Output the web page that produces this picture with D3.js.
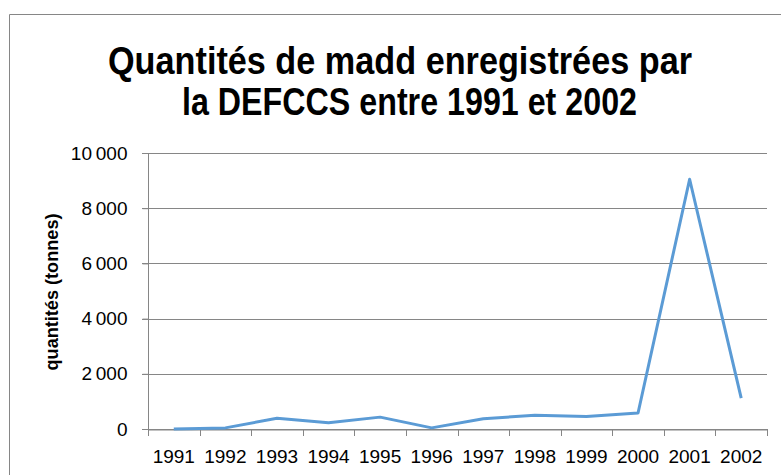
<!DOCTYPE html>
<html>
<head>
<meta charset="utf-8">
<script src="https://cdn.jsdelivr.net/npm/d3@7"></script>
<style>
  body { margin: 0; background: #fff; }
</style>
</head>
<body>
<div id="main"></div>
<script>
const ctx = { w: 781, h: 475 };
const margin = { top: 153, right: 14, bottom: 46, left: 148 };

// données
const years = ['1991', '1992', '1993', '1994', '1995', '1996', '1997', '1998', '1999', '2000', '2001', '2002'];
const quantites = [0, 40, 390, 230, 430, 40, 370, 500, 450, 580, 9050, 1120];
const yTicks = [0, 2000, 4000, 6000, 8000, 10000];
const titleLines = ['Quantités de madd enregistrées par', 'la DEFCCS entre 1991 et 2002'];

const fmt = v => d3.format(',')(v).replace(/,/g, '\u202f');

const svg = d3.select('#main').append('svg')
    .attr('width', ctx.w)
    .attr('height', ctx.h);

// cadre du graphique
svg.append('path')
    .attr('d', `M9.5,${ctx.h} V14.5 H${ctx.w}`)
    .attr('fill', 'none')
    .attr('stroke', '#868686');

// titre
svg.selectAll('.title')
    .data(titleLines)
    .enter().append('text')
    .attr('class', 'title')
    .attr('x', (d, i) => i === 0 ? 108 : 182)
    .attr('y', (d, i) => 74 + i * 41)
    .attr('textLength', (d, i) => i === 0 ? 584 : 455)
    .attr('lengthAdjust', 'spacingAndGlyphs')
    .style('font-family', 'Liberation Sans, Arial, sans-serif')
    .style('font-size', '38px')
    .style('font-weight', 'bold')
    .text(d => d);

const x = d3.scaleBand()
    .domain(years)
    .range([margin.left, ctx.w - margin.right]);

const y = d3.scaleLinear()
    .domain([0, 10000])
    .range([ctx.h - margin.bottom, margin.top]);

// grille horizontale
svg.append('g')
    .selectAll('line')
    .data(yTicks)
    .enter().append('line')
    .attr('x1', margin.left - 6)
    .attr('x2', ctx.w - margin.right)
    .attr('y1', d => Math.round(y(d)) + 0.5)
    .attr('y2', d => Math.round(y(d)) + 0.5)
    .attr('stroke', '#868686');

// axe Y
const yAxis = svg.append('g')
    .attr('transform', `translate(${margin.left + 0.5},0)`)
    .call(d3.axisLeft(y).tickValues(yTicks).tickFormat(fmt).tickSize(6).tickSizeOuter(0));
yAxis.select('.domain').attr('stroke', '#868686');
yAxis.selectAll('.tick line').attr('stroke', '#868686');
yAxis.selectAll('.tick text')
    .attr('x', -21)
    .style('font-family', 'Liberation Sans, Arial, sans-serif')
    .style('font-size', '19px')
    .attr('fill', '#000');
yAxis.select('.domain').attr('d', `M0,${y(10000)}V${y(0) + 6}`);

// axe X
const xAxis = svg.append('g')
    .attr('transform', `translate(0,${Math.round(y(0)) + 0.5})`)
    .call(d3.axisBottom(x).tickSize(0));
xAxis.select('.domain').attr('stroke', '#868686');
xAxis.selectAll('.tick text')
    .attr('dy', '1.62em')
    .style('font-family', 'Liberation Sans, Arial, sans-serif')
    .style('font-size', '19px')
    .attr('fill', '#000');
// graduations entre les catégories
svg.append('g')
    .selectAll('line')
    .data(years.concat(['end']))
    .enter().append('line')
    .attr('x1', (d, i) => Math.round(margin.left + i * x.bandwidth()) + 0.5)
    .attr('x2', (d, i) => Math.round(margin.left + i * x.bandwidth()) + 0.5)
    .attr('y1', y(0))
    .attr('y2', y(0) + 7)
    .attr('stroke', '#868686');

// titre de l'axe Y
svg.append('text')
    .attr('transform', `translate(58,${(y(0) + y(10000)) / 2 + 1}) rotate(-90)`)
    .attr('text-anchor', 'middle')
    .attr('textLength', 157)
    .attr('lengthAdjust', 'spacingAndGlyphs')
    .style('font-family', 'Liberation Sans, Arial, sans-serif')
    .style('font-size', '18px')
    .style('font-weight', 'bold')
    .text('quantités (tonnes)');

// courbe
const line = d3.line()
    .x((d, i) => x(years[i]) + x.bandwidth() / 2)
    .y(d => y(d));

svg.append('path')
    .datum(quantites)
    .attr('fill', 'none')
    .attr('stroke', '#5b9bd5')
    .attr('stroke-width', 3)
    .attr('stroke-linejoin', 'round')
    .attr('d', line);
</script>
</body>
</html>
